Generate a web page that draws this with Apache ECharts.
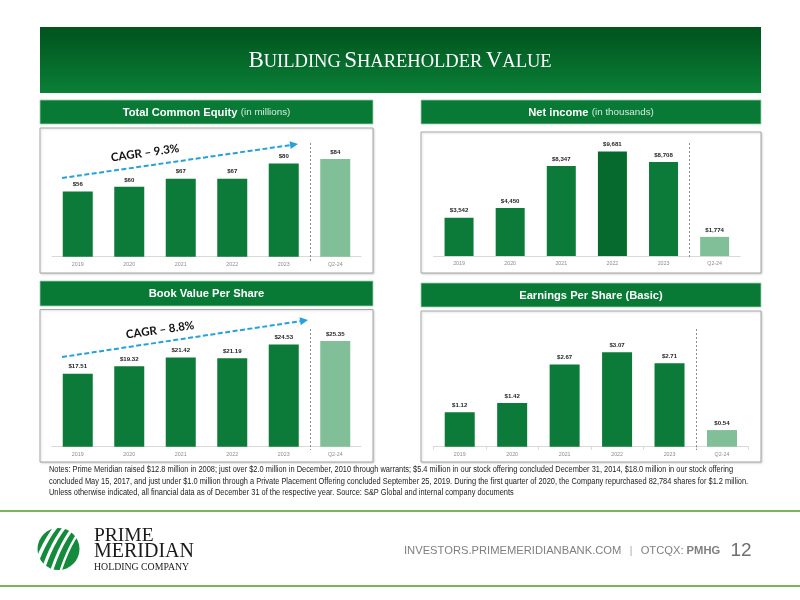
<!DOCTYPE html>
<html><head><meta charset="utf-8">
<script src="https://cdn.jsdelivr.net/npm/echarts@6/dist/echarts.min.js"></script>
<style>html,body{margin:0;padding:0;background:#fff}#c{width:800px;height:600px}</style>
</head><body><div id="c"></div>
<script>
// ---- data ----
const categories = ['2019', '2020', '2021', '2022', '2023', 'Q2-24'];
const equityValues = [56, 60, 67, 67, 80, 84];            // $ millions
const netIncomeValues = [3542, 4450, 8347, 9681, 8708, 1774]; // $ thousands
const bookValueValues = [17.51, 19.32, 21.42, 21.19, 24.53, 25.35];
const epsValues = [1.12, 1.42, 2.67, 3.07, 2.71, 0.54];
const equityCagr = 'CAGR – 9.3%';
const bookValueCagr = 'CAGR – 8.8%';
const notesLines = [
  'Notes: Prime Meridian raised $12.8 million in 2008; just over $2.0 million in December, 2010 through warrants; $5.4 million in our stock offering concluded December 31, 2014, $18.0 million in our stock offering',
  'concluded May 15, 2017, and just under $1.0 million through a Private Placement Offering concluded September 25, 2019. During the first quarter of 2020, the Company repurchased 82,784 shares for $1.2 million.',
  'Unless otherwise indicated, all financial data as of December 31 of the respective year. Source: S&P Global and internal company documents'
];

// ---- styles ----
const SANS = "'Liberation Sans', Arial, sans-serif";
const NARROW = "'Liberation Sans Narrow', 'Liberation Sans', Arial, sans-serif";
const SERIF = "'Liberation Serif', 'Times New Roman', serif";
const GREEN = '#0c7a38', DARK = '#066a2e', LIGHT = '#80bf98', HEAD = '#087a36';

const chart = echarts.init(document.getElementById('c'), null, {renderer: 'canvas'});

const grids = [
  {left: 52, top: 140.3, width: 309, height: 116.4},   // equity
  {left: 433.5, top: 126.5, width: 306.7, height: 129.5}, // net income
  {left: 52, top: 321.6, width: 309, height: 125.1},   // book value
  {left: 433.5, top: 323.5, width: 314.7, height: 123.2}  // eps
];
const yMax = [100, 12000, 30, 4];

function xAxis(i, ticks) {
  return {
    type: 'category', gridIndex: i, data: categories,
    axisLine: {lineStyle: {color: '#d9d9d9', width: 1}},
    axisTick: {show: ticks, lineStyle: {color: '#d9d9d9'}, length: 3},
    axisLabel: {color: '#8c8c8c', fontSize: 5.3, fontFamily: NARROW, margin: 5}
  };
}
function yAxis(i) {
  return {type: 'value', gridIndex: i, min: 0, max: yMax[i], show: false, splitLine: {show: false}};
}
function barColor(i, highlight) {
  if (i === categories.length - 1) return LIGHT;
  if (i === highlight) return DARK;
  return GREEN;
}
function bars(i, values, fmt, bw, highlight) {
  return {
    type: 'bar', xAxisIndex: i, yAxisIndex: i, barWidth: bw, silent: true,
    data: values.map((v, k) => ({value: v, itemStyle: {color: barColor(k, highlight)}})),
    label: {show: true, position: 'top', distance: 4, formatter: p => fmt(p.value),
      fontFamily: NARROW, fontWeight: 'bold', fontSize: 6.1, color: '#262626'}
  };
}

chart.setOption({
  animation: false,
  grid: grids,
  xAxis: [xAxis(0, false), xAxis(1, false), xAxis(2, false), xAxis(3, true)],
  yAxis: [yAxis(0), yAxis(1), yAxis(2), yAxis(3)],
  series: [
    bars(0, equityValues, v => '$' + v, 30, -1),
    bars(1, netIncomeValues, v => '$' + v.toLocaleString('en-US'), 29, 3),
    bars(2, bookValueValues, v => '$' + v.toFixed(2), 30, -1),
    bars(3, epsValues, v => '$' + v.toFixed(2), 30, -1)
  ]
});

// ---- decorations ----
function rect(x, y, w, h, style, z) { return {type: 'rect', shape: {x, y, width: w, height: h}, style, z: z || 0, silent: true}; }
function text(x, y, t, style, extra) { return Object.assign({type: 'text', x, y, style: Object.assign({text: t}, style), z: 30, silent: true}, extra || {}); }
function header(x, y, w, h, bold, normal) {
  return [
    rect(x, y, w, h, {fill: HEAD, stroke: '#9fcfae', lineWidth: 0.8}, 1),
    text(x + w / 2, y + h / 2 + 0.5, normal ? '{b|' + bold + '} {n|' + normal + '}' : '{b|' + bold + '}', {
      align: 'center', verticalAlign: 'middle',
      rich: {b: {fontFamily: SANS, fontWeight: 'bold', fontSize: 11.2, fill: '#ffffff'},
             n: {fontFamily: SANS, fontSize: 9.8, fill: '#d5ebdc'}}
    })
  ];
}
function box(x, y, w, h) { return rect(x, y, w, h, {fill: '#fff', stroke: '#a6a6a6', lineWidth: 1, shadowBlur: 2, shadowColor: 'rgba(0,0,0,0.15)', shadowOffsetX: 1, shadowOffsetY: 1}, 0); }
function arrow(x1, y1, x2, y2) {
  const a = Math.atan2(y2 - y1, x2 - x1), L = 8, W = 4;
  const bx = x2 - L * Math.cos(a), by = y2 - L * Math.sin(a);
  const px = -Math.sin(a) * W, py = Math.cos(a) * W;
  return [
    {type: 'line', shape: {x1, y1, x2: bx, y2: by}, style: {stroke: '#27a0dc', lineWidth: 2, lineDash: [5, 2.5]}, z: 20, silent: true},
    {type: 'polygon', shape: {points: [[x2, y2], [bx + px, by + py], [bx - px, by - py]]}, style: {fill: '#27a0dc'}, z: 20, silent: true}
  ];
}
function divider(i, y1, y2) {
  const a = chart.convertToPixel({xAxisIndex: i}, categories[categories.length - 2]);
  const b = chart.convertToPixel({xAxisIndex: i}, categories[categories.length - 1]);
  const x = Math.round((a + b) / 2) + 0.5;
  return {type: 'line', shape: {x1: x, y1, x2: x, y2}, style: {stroke: '#8c8c8c', lineWidth: 1, lineDash: [2, 2]}, z: 20, silent: true};
}
function cagr(x, y, t) {
  return text(x, y, t, {fontFamily: "Lato, 'Liberation Sans', sans-serif", fontWeight: 'bold', fontSize: 11.5, fill: '#111', align: 'center', verticalAlign: 'middle'}, {rotation: 8 * Math.PI / 180});
}

const g = [];
// banner
g.push(rect(40, 27, 721, 66, {fill: new echarts.graphic.LinearGradient(0, 0, 0, 1, [{offset: 0, color: '#00521d'}, {offset: 1, color: '#0a8037'}])}, 1));
g.push(text(400, 60, '{B|B}{s|UILDING} {B|S}{s|HAREHOLDER} {B|V}{s|ALUE}', {
  align: 'center', verticalAlign: 'middle',
  rich: {B: {fontFamily: SERIF, fontSize: 23, fill: '#fff', verticalAlign: 'bottom', lineHeight: 24},
         s: {fontFamily: SERIF, fontSize: 18.5, fill: '#fff', verticalAlign: 'bottom', lineHeight: 24}}
}));
// panels
g.push(box(40, 128, 333, 145), box(421, 132, 340, 141), box(40, 309.5, 333, 152.5), box(421, 311, 340, 151));
g.push(...header(40, 100, 333, 24, 'Total Common Equity', '(in millions)'));
g.push(...header(421, 100, 340, 24, 'Net income', '(in thousands)'));
g.push(...header(40, 281, 333, 25, 'Book Value Per Share'));
g.push(...header(421, 283, 340, 24, 'Earnings Per Share (Basic)'));
// dividers
g.push(divider(0, 143, 262), divider(1, 143, 257), divider(2, 329, 450), divider(3, 329, 450));
// CAGR arrows
g.push(...arrow(62, 178, 298, 144), cagr(145, 153, equityCagr));
g.push(...arrow(62, 357, 308, 320), cagr(160, 330, bookValueCagr));
// notes (condensed like Arial Narrow)
notesLines.forEach((t, k) => g.push(text(0, 0, t, {fontFamily: SANS, fontSize: 8.3, fill: '#1a1a1a', align: 'left', verticalAlign: 'middle'},
  {x: 49, y: 470 + k * 11.6, scaleX: 0.895})));
// footer
g.push({type: 'line', shape: {x1: 0, y1: 511, x2: 800, y2: 511}, style: {stroke: '#7ab55c', lineWidth: 2}, silent: true});
g.push({type: 'line', shape: {x1: 0, y1: 586, x2: 800, y2: 586}, style: {stroke: '#7ab55c', lineWidth: 2}, silent: true});
g.push(text(404, 551, '{a|INVESTORS.PRIMEMERIDIANBANK.COM}{p|   |   }{a|OTCQX: }{b|PMHG}', {
  align: 'left', verticalAlign: 'middle',
  rich: {a: {fontFamily: SANS, fontSize: 11.2, fill: '#7f7f7f'}, p: {fontFamily: SANS, fontSize: 10, fill: '#a6a6a6'},
         b: {fontFamily: SANS, fontSize: 11.2, fontWeight: 'bold', fill: '#7f7f7f'}}
}));
g.push(text(741, 551, '12', {fontFamily: NARROW, fontSize: 19, fill: '#6f6f6f', align: 'center', verticalAlign: 'middle'}));
// logo
g.push({type: 'circle', shape: {cx: 58.5, cy: 549, r: 21}, style: {fill: '#138a3c'}, z: 2, silent: true});
[[-12, 3.6], [-3, 3.2], [6, 2.8], [15, 2.4]].forEach(([o, w]) => {
  g.push({type: 'bezierCurve', shape: {x1: 44 + o, y1: 576, cpx1: 50 + o, cpy1: 556, x2: 72 + o, y2: 522, cpx2: 60 + o, cpy2: 535},
    style: {stroke: '#fff', lineWidth: w, fill: null}, z: 3, silent: true});
});
g.push(text(94, 536, 'PRIME', {fontFamily: SERIF, fontSize: 19.5, fill: '#1a1a1a', align: 'left', verticalAlign: 'middle'}));
g.push(text(94, 552, 'MERIDIAN', {fontFamily: SERIF, fontSize: 20, fill: '#1a1a1a', align: 'left', verticalAlign: 'middle'}));
g.push(text(94, 567.5, 'HOLDING COMPANY', {fontFamily: SERIF, fontSize: 9.8, fill: '#1a1a1a', align: 'left', verticalAlign: 'middle'}));

chart.setOption({graphic: {elements: g}});
</script></body></html>
